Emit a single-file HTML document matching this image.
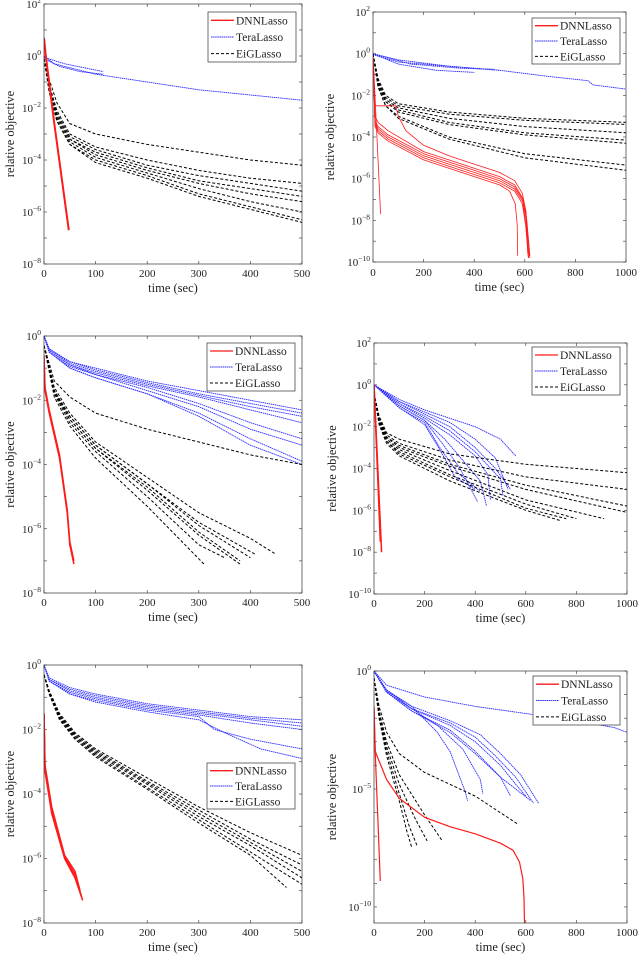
<!DOCTYPE html>
<html><head><meta charset="utf-8"><style>
html,body{margin:0;padding:0;background:#fff;}
svg{display:block;font-family:"Liberation Serif",serif;}
</style></head><body>
<svg id="fig" width="640" height="959" viewBox="0 0 640 959" xmlns="http://www.w3.org/2000/svg"></svg>
<script>
// Data: each curve is a list of [time (sec), log10(relative objective)]
const p1_dnn = [[[0,0.7],[3,0.1],[20,-2.6],[48,-6.7]]];
const p1_tera = [[[0,0],[20,-0.3],[60,-0.5],[100,-0.7],[200,-1.0],[300,-1.3],[400,-1.5],[500,-1.7]],
 [[0,-0.1],[30,-0.4],[70,-0.6],[115,-0.7]],[[0,-0.05],[40,-0.3],[115,-0.6]]];
const p1_eig = [
 [[0,-0.1],[10,-0.9],[25,-1.8],[50,-2.6],[100,-3.0],[200,-3.4],[300,-3.7],[400,-4.0],[500,-4.2]],
 [[0,-0.1],[10,-1.1],[25,-2.1],[50,-3.0],[100,-3.5],[200,-4.0],[300,-4.4],[400,-4.7],[500,-4.9]],
 [[0,-0.1],[10,-1.1],[25,-2.2],[50,-3.1],[100,-3.6],[200,-4.2],[300,-4.6],[400,-4.9],[500,-5.2]],
 [[0,-0.1],[10,-1.2],[25,-2.3],[50,-3.2],[100,-3.7],[200,-4.3],[300,-4.8],[400,-5.1],[500,-5.4]],
 [[0,-0.1],[10,-1.2],[25,-2.3],[50,-3.2],[100,-3.8],[200,-4.4],[300,-4.9],[400,-5.3],[500,-5.6]],
 [[0,-0.1],[10,-1.3],[25,-2.4],[50,-3.3],[100,-3.9],[200,-4.5],[300,-5.1],[400,-5.6],[500,-6.0]],
 [[0,-0.1],[10,-1.3],[25,-2.5],[50,-3.4],[100,-4.0],[200,-4.6],[300,-5.3],[400,-5.8],[500,-6.3]],
 [[0,-0.1],[10,-1.4],[25,-2.5],[50,-3.4],[100,-4.1],[200,-4.7],[300,-5.4],[400,-5.9],[500,-6.4]]];
const p2_dnn = [[[0,0],[30,-7.7]],
 [[0,0],[8,-2.5],[90,-2.5],[100,-3.0],[130,-3.7],[200,-4.4],[300,-4.9],[400,-5.3],[500,-5.7],[560,-6.1],[590,-6.7],[605,-7.6],[612,-9.6]],
 [[0,0],[8,-3.0],[20,-3.3],[60,-3.7],[200,-4.7],[300,-5.1],[400,-5.5],[500,-5.9],[560,-6.3],[590,-6.9],[606,-7.8],[618,-9.8]],
 [[0,0],[8,-3.2],[20,-3.5],[60,-3.9],[200,-4.8],[300,-5.2],[400,-5.6],[500,-6.0],[560,-6.4],[592,-7.0],[608,-8.0],[620,-9.7]],
 [[0,0],[8,-3.3],[20,-3.6],[60,-4.0],[200,-4.9],[300,-5.3],[400,-5.7],[500,-6.1],[560,-6.5],[592,-7.1],[606,-8.2],[615,-9.8]],
 [[0,0],[8,-3.4],[20,-3.7],[60,-4.1],[200,-5.0],[300,-5.4],[400,-5.8],[500,-6.2],[560,-6.6],[590,-7.2],[604,-8.3],[614,-9.8]],
 [[0,0],[8,-3.5],[20,-3.8],[60,-4.2],[200,-5.1],[300,-5.5],[400,-5.9],[500,-6.3],[540,-6.6],[562,-7.2],[570,-8.2],[572,-9.7]]];
const p2_tera = [[[0,0],[100,-0.3],[300,-0.6],[500,-0.8],[700,-1.1],[850,-1.3],[870,-1.5],[1000,-1.7]],
 [[0,-0.05],[100,-0.4],[300,-0.6],[500,-0.8]],[[0,0],[150,-0.5],[350,-0.7],[480,-0.75]],
 [[0,0],[100,-0.5],[250,-0.8],[400,-0.9]]];
const p2_eig = [
 [[0,0],[20,-1.2],[50,-2.0],[100,-2.4],[300,-2.8],[600,-3.1],[1000,-3.3]],
 [[0,0],[20,-1.3],[50,-2.1],[100,-2.5],[300,-2.9],[600,-3.2],[1000,-3.4]],
 [[0,0],[20,-1.4],[50,-2.2],[100,-2.6],[300,-3.1],[600,-3.5],[1000,-3.8]],
 [[0,0],[20,-1.5],[50,-2.3],[100,-2.7],[300,-3.3],[600,-3.8],[1000,-4.15]],
 [[0,0],[20,-1.5],[50,-2.3],[100,-2.8],[300,-3.4],[600,-3.9],[1000,-4.3]],
 [[0,0],[20,-1.6],[50,-2.5],[100,-3.0],[300,-4.0],[600,-4.8],[1000,-5.35]],
 [[0,0],[20,-1.6],[50,-2.5],[100,-3.1],[300,-4.1],[600,-5.0],[1000,-5.6]]];
const p3_dnn = [[[0,-0.7],[2,-1.7],[10,-2.4],[30,-3.8],[45,-5.5],[50,-6.5],[58,-7.1]],
 [[0,-0.6],[2,-1.6],[10,-2.3],[30,-3.7],[45,-5.4],[50,-6.4],[58,-7.0]]];
const p3_tera = [
 [[0,0],[10,-0.4],[50,-0.8],[100,-1.0],[200,-1.4],[300,-1.7],[400,-2.0],[500,-2.3]],
 [[0,0],[10,-0.4],[50,-0.8],[100,-1.05],[200,-1.45],[300,-1.8],[400,-2.1],[500,-2.4]],
 [[0,0],[10,-0.4],[50,-0.85],[100,-1.1],[200,-1.5],[300,-1.85],[400,-2.2],[500,-2.5]],
 [[0,0],[10,-0.45],[50,-0.9],[100,-1.15],[200,-1.55],[300,-1.9],[400,-2.3],[500,-2.7]],
 [[0,0],[10,-0.45],[50,-0.9],[100,-1.2],[200,-1.6],[300,-2.1],[400,-2.7],[500,-3.2]],
 [[0,0],[10,-0.5],[50,-0.95],[100,-1.2],[200,-1.7],[300,-2.2],[400,-2.9],[500,-3.4]],
 [[0,0],[10,-0.5],[50,-1.0],[100,-1.3],[200,-1.8],[300,-2.4],[400,-3.2],[500,-3.9]],
 [[0,0],[10,-0.5],[50,-1.0],[100,-1.3],[200,-1.8],[300,-2.5],[400,-3.4],[500,-4.0]]];
const p3_eig = [
 [[0,-0.3],[20,-1.4],[50,-1.9],[100,-2.4],[200,-2.9],[300,-3.3],[400,-3.7],[500,-4.0]],
 [[0,-0.3],[20,-1.6],[50,-2.4],[100,-3.3],[200,-4.4],[300,-5.5],[400,-6.3],[450,-6.8]],
 [[0,-0.3],[20,-1.7],[50,-2.5],[100,-3.4],[200,-4.6],[300,-5.8],[410,-6.8]],
 [[0,-0.3],[20,-1.7],[50,-2.5],[100,-3.4],[200,-4.6],[300,-5.9],[400,-6.9]],
 [[0,-0.3],[20,-1.7],[50,-2.6],[100,-3.5],[200,-4.7],[300,-6.1],[380,-7.0]],
 [[0,-0.3],[20,-1.75],[50,-2.6],[100,-3.5],[200,-4.8],[300,-6.2],[380,-7.1]],
 [[0,-0.3],[20,-1.8],[50,-2.7],[100,-3.6],[200,-5.0],[300,-6.5],[350,-6.9]],
 [[0,-0.3],[20,-1.9],[50,-2.8],[100,-3.8],[200,-5.3],[310,-7.1]]];
const p4_dnn = [[[0,0],[30,-8.0]],[[0,0],[25,-7.5]]];
const p4_tera = [
 [[0,0],[100,-0.7],[200,-1.2],[300,-1.6],[400,-2.0],[500,-2.6],[560,-3.4]],
 [[0,0],[100,-0.8],[200,-1.3],[300,-1.8],[400,-2.6],[480,-3.5],[530,-5.0]],
 [[0,0],[100,-0.8],[200,-1.4],[300,-2.0],[400,-3.0],[480,-4.0],[540,-5.0]],
 [[0,0],[100,-0.9],[200,-1.5],[300,-2.2],[400,-3.2],[500,-4.5],[510,-5.3]],
 [[0,0],[100,-0.9],[200,-1.6],[300,-2.4],[400,-3.4],[450,-4.3],[460,-5.5]],
 [[0,0],[100,-1.0],[200,-1.7],[280,-2.6],[350,-3.6],[420,-4.6],[445,-5.8]],
 [[0,0],[100,-1.0],[200,-1.7],[270,-2.8],[340,-4.0],[410,-5.6]],
 [[0,0],[100,-1.1],[200,-1.8],[260,-3.0],[330,-4.2],[420,-5.1]],
 [[0,0],[100,-1.1],[200,-1.9],[260,-3.1],[320,-4.4],[400,-5.0]]];
const p4_eig = [
 [[0,-0.4],[20,-1.5],[50,-2.3],[100,-2.6],[300,-3.3],[600,-3.8],[1000,-4.2]],
 [[0,-0.4],[20,-1.6],[50,-2.4],[100,-2.8],[300,-3.6],[600,-4.4],[1000,-5.0]],
 [[0,-0.4],[20,-1.6],[50,-2.5],[100,-2.9],[300,-3.8],[600,-4.8],[1000,-5.8]],
 [[0,-0.4],[20,-1.7],[50,-2.5],[100,-3.0],[300,-3.9],[600,-5.0],[1000,-6.1]],
 [[0,-0.4],[20,-1.7],[50,-2.6],[100,-3.1],[300,-4.1],[600,-5.5],[910,-6.4]],
 [[0,-0.4],[20,-1.8],[50,-2.7],[100,-3.2],[300,-4.3],[600,-5.7],[800,-6.4]],
 [[0,-0.4],[20,-1.8],[50,-2.7],[100,-3.3],[300,-4.4],[600,-5.9],[760,-6.4]],
 [[0,-0.4],[20,-1.9],[50,-2.8],[100,-3.4],[300,-4.6],[600,-6.0],[740,-6.5]]];
const p5_dnn = [
 [[0,-1.6],[2,-3.3],[15,-4.6],[40,-6.0],[60,-6.6],[75,-7.3]],
 [[0,-1.5],[2,-3.2],[15,-4.5],[40,-5.95],[60,-6.5],[73,-7.2]],
 [[0,-1.5],[2,-3.1],[15,-4.4],[40,-5.9],[60,-6.4],[70,-7.0]]];
const p5_tera = [
 [[0,0],[10,-0.4],[50,-0.7],[100,-0.9],[200,-1.2],[300,-1.4],[400,-1.6],[500,-1.7]],
 [[0,0],[10,-0.45],[50,-0.75],[100,-0.95],[200,-1.25],[300,-1.45],[400,-1.65],[500,-1.8]],
 [[0,0],[10,-0.45],[50,-0.8],[100,-1.0],[200,-1.3],[300,-1.5],[400,-1.7],[500,-1.9]],
 [[0,0],[10,-0.5],[50,-0.85],[100,-1.05],[200,-1.35],[300,-1.55],[400,-1.8],[500,-2.0]],
 [[0,0],[10,-0.5],[50,-0.9],[100,-1.1],[200,-1.4],[300,-1.6],[330,-2.0],[400,-2.3],[500,-2.6]],
 [[0,0],[10,-0.5],[50,-0.9],[100,-1.15],[200,-1.45],[300,-1.7],[350,-2.1],[420,-2.6],[500,-2.9]]];
const p5_eig = [
 [[0,-0.3],[10,-0.8],[30,-1.5],[60,-2.1],[100,-2.6],[200,-3.5],[300,-4.4],[400,-5.2],[500,-5.9]],
 [[0,-0.3],[10,-0.8],[30,-1.55],[60,-2.15],[100,-2.65],[200,-3.6],[300,-4.5],[400,-5.4],[500,-6.2]],
 [[0,-0.3],[10,-0.85],[30,-1.6],[60,-2.2],[100,-2.7],[200,-3.65],[300,-4.6],[400,-5.5],[500,-6.4]],
 [[0,-0.3],[10,-0.85],[30,-1.6],[60,-2.2],[100,-2.75],[200,-3.7],[300,-4.7],[400,-5.6],[500,-6.6]],
 [[0,-0.3],[10,-0.9],[30,-1.65],[60,-2.25],[100,-2.8],[200,-3.8],[300,-4.8],[400,-5.8],[500,-6.8]],
 [[0,-0.3],[10,-0.9],[30,-1.7],[60,-2.3],[100,-2.85],[200,-3.85],[300,-4.9],[400,-5.9],[470,-6.9]]];
const p6_dnn = [[[0,-1.5],[3,-3.0],[25,-8.9]],
 [[0,-1.5],[5,-3.4],[12,-3.6],[50,-4.6],[100,-5.4],[200,-6.2],[300,-6.6],[400,-6.9],[500,-7.3],[550,-7.6],[575,-8.1],[588,-8.8],[593,-9.6],[595,-10.7]]];
const p6_tera = [
 [[0,0],[50,-0.6],[200,-1.1],[400,-1.5],[600,-1.8],[800,-2.1],[950,-2.4],[1000,-2.6]],
 [[0,0],[50,-0.8],[150,-1.5],[250,-2.6],[300,-3.4],[360,-5.1],[370,-5.5]],
 [[0,0],[50,-0.8],[150,-1.6],[250,-2.3],[350,-3.3],[420,-4.6],[430,-5.2]],
 [[0,0],[50,-0.9],[150,-1.7],[300,-2.5],[400,-3.4],[500,-4.5],[540,-5.3]],
 [[0,0],[50,-0.9],[150,-1.6],[300,-2.3],[400,-3.0],[500,-4.0],[560,-4.8],[600,-5.3]],
 [[0,0],[50,-0.9],[150,-1.6],[300,-2.2],[400,-2.8],[480,-3.6],[560,-4.5],[630,-5.6]],
 [[0,0],[50,-0.85],[150,-1.5],[300,-2.1],[420,-2.7],[500,-3.5],[580,-4.4],[650,-5.6]],
 [[0,0],[50,-0.9],[150,-1.7],[300,-2.6],[400,-3.5],[500,-4.5],[620,-5.5]]];
const p6_eig = [
 [[0,-0.3],[20,-1.5],[50,-2.6],[100,-3.5],[200,-4.3],[300,-4.8],[400,-5.3],[570,-6.5]],
 [[0,-0.3],[20,-1.7],[50,-3.0],[100,-4.4],[200,-6.1],[270,-7.2]],
 [[0,-0.3],[20,-1.8],[50,-3.2],[100,-4.8],[160,-6.2],[210,-7.2]],
 [[0,-0.3],[20,-1.9],[50,-3.4],[100,-5.2],[140,-6.6],[170,-7.4]],
 [[0,-0.3],[20,-2.0],[50,-3.6],[100,-5.5],[130,-6.8],[150,-7.5]]];

const panels = [
 {id:'p1',x0:44,x1:302,yt:4,yb:264,xmax:500,xstep:100,lt:2,lb:-8,labs:[2,0,-2,-4,-6,-8],leg:[208,12,88,50],tickY:277,titleY:292,ylabX:10,dnn:p1_dnn,tera:p1_tera,eig:p1_eig,dw:2},
 {id:'p2',x0:373,x1:626,yt:12,yb:262,xmax:1000,xstep:200,lt:2,lb:-10,labs:[2,0,-2,-4,-6,-8,-10],leg:[532,18,88,46],tickY:276,titleY:291,ylabX:330,dnn:p2_dnn,tera:p2_tera,eig:p2_eig,dw:0.8},
 {id:'p3',x0:44,x1:302,yt:336,yb:593,xmax:500,xstep:100,lt:0,lb:-8,labs:[0,-2,-4,-6,-8],leg:[207,343,88,48],tickY:606,titleY:621,ylabX:10,dnn:p3_dnn,tera:p3_tera,eig:p3_eig,dw:1.5},
 {id:'p4',x0:374,x1:627,yt:343,yb:594,xmax:1000,xstep:200,lt:2,lb:-10,labs:[2,0,-2,-4,-6,-8,-10],leg:[532,347,88,48],tickY:607,titleY:622,ylabX:332,dnn:p4_dnn,tera:p4_tera,eig:p4_eig,dw:1.5},
 {id:'p5',x0:44,x1:302,yt:665,yb:923,xmax:500,xstep:100,lt:0,lb:-8,labs:[0,-2,-4,-6,-8],leg:[207,763,88,46],tickY:936,titleY:951,ylabX:10,dnn:p5_dnn,tera:p5_tera,eig:p5_eig,dw:1.5},
 {id:'p6',x0:374,x1:627,yt:671,yb:923,xmax:1000,xstep:200,lt:0,lb:-10.68,labs:[0,-5,-10],leg:[533,676,87,49],tickY:936,titleY:951,ylabX:332,dnn:p6_dnn,tera:p6_tera,eig:p6_eig,dw:1.2}
];

const NS='http://www.w3.org/2000/svg';
const fig=document.getElementById('fig');
function mk(tag,attrs,parent){const e=document.createElementNS(NS,tag);for(const k in attrs)e.setAttribute(k,attrs[k]);(parent||fig).appendChild(e);return e;}

panels.forEach(p=>{
 const g=mk('g',{});
 
 
 const top=p.lt, bot=p.lb;
 const xs=t=>p.x0+(t/p.xmax)*(p.x1-p.x0);
 const ys=v=>p.yt+(top-v)/(top-bot)*(p.yb-p.yt);
 const clipId='clip'+p.id;
 const cp=mk('clipPath',{id:clipId},g);
 mk('rect',{x:p.x0,y:p.yt,width:p.x1-p.x0,height:p.yb-p.yt},cp);
 for(let t=0;t<=p.xmax;t+=p.xstep){
  const x=xs(t);
  const l1=mk('line',{x1:x,x2:x,y1:p.yb,y2:p.yb-3,stroke:'#333','stroke-width':0.6},g);
  
  
  mk('line',{x1:x,x2:x,y1:p.yt,y2:p.yt+3,stroke:'#333','stroke-width':0.6},g);
  const tx=mk('text',{x:x,y:p.tickY,'font-size':11,'text-anchor':'middle',fill:'#222'},g);
  tx.textContent=String(t);
  
  
 }
 for(let d=Math.floor(top);d>=Math.ceil(bot);d--){
  const y=ys(d);
  mk('line',{x1:p.x0,x2:p.x0+3,y1:y,y2:y,stroke:'#333','stroke-width':0.6},g);
  mk('line',{x1:p.x1,x2:p.x1-3,y1:y,y2:y,stroke:'#333','stroke-width':0.6},g);
 }
 p.labs.forEach(d=>{
  const y=ys(d);
  const tx=mk('text',{x:p.x0-3,y:y+4,'font-size':11,'text-anchor':'end',fill:'#222'},g);
  
  
  const a=mk('tspan',{},tx);a.textContent='10';
  const b=mk('tspan',{dy:-5,'font-size':7.5},tx);b.textContent=String(d).replace('-','\u2212');
 });
 const draw=(curves,color,w,dash,name)=>{
  curves.forEach(c=>{
   const pl=mk('polyline',{points:c.map(q=>xs(q[0]).toFixed(1)+','+ys(q[1]).toFixed(1)).join(' '),fill:'none',stroke:color,'stroke-width':w,'stroke-dasharray':dash,'clip-path':'url(#'+clipId+')','stroke-linejoin':'round'},g);
   
   
  });
 };
 draw(p.tera,'#2a2aff',0.9,'1.5,0.6','teralasso-line');
 draw(p.eig,'#000',1,'3,2','eiglasso-line');
 draw(p.dnn,'#ff1a1a',p.dw,'none','dnnlasso-line');
 const bx=mk('rect',{x:p.x0,y:p.yt,width:p.x1-p.x0,height:p.yb-p.yt,fill:'none',stroke:'#333','stroke-width':0.7},g);
 
 
 const xl=mk('text',{x:(p.x0+p.x1)/2,y:p.titleY,'font-size':12.5,'text-anchor':'middle',fill:'#222'},g);
 xl.textContent='time (sec)';
 
 
 const cy=(p.yt+p.yb)/2;
 const yl=mk('text',{x:p.ylabX,y:cy,'font-size':12.5,'text-anchor':'middle',fill:'#222',transform:'rotate(-90 '+p.ylabX+' '+cy+')'},g);
 yl.setAttribute('dy','4');
 yl.textContent='relative objective';
 
 
 const [lx,ly,lw,lh]=p.leg;
 const lg=mk('g',{},g);
 
 
 mk('rect',{x:lx,y:ly,width:lw,height:lh,fill:'#fff',stroke:'#333','stroke-width':0.7},lg);
 const items=[['DNNLasso','#ff1a1a','none',1.3],['TeraLasso','#2a2aff','1.5,0.6',1],['EiGLasso','#000','3,2',1]];
 items.forEach((it,i)=>{
  const yy=ly+lh*(i+0.5)/3;
  const e=mk('g',{},lg);
  
  
  mk('line',{x1:lx+3,x2:lx+26,y1:yy,y2:yy,stroke:it[1],'stroke-dasharray':it[2],'stroke-width':it[3]},e);
  const t=mk('text',{x:lx+28,y:yy+4,'font-size':11.5,fill:'#222'},e);
  t.textContent=it[0];
 });
});
</script>
</body></html>
